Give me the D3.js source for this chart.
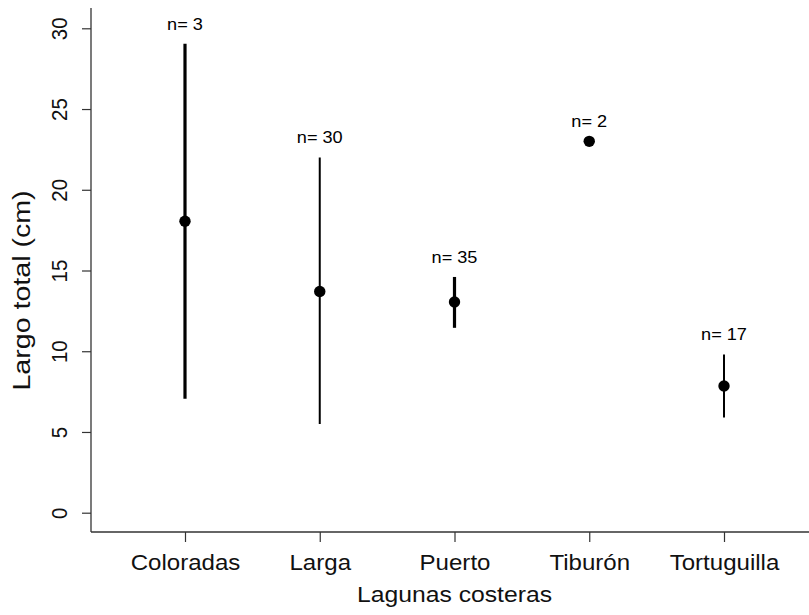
<!DOCTYPE html>
<html>
<head>
<meta charset="utf-8">
<script src="https://cdn.jsdelivr.net/npm/d3@7"></script>
<style>
  html, body { margin: 0; padding: 0; background: #fff; }
  svg { display: block; font-family: "Liberation Sans", Arial, sans-serif; }
</style>
</head>
<body>
<svg id="chart" width="809" height="615"></svg>
<script>
// Largo total por laguna costera: media y rango
const lagunas = ["Coloradas", "Larga", "Puerto", "Tiburón", "Tortuguilla"];
const media   = [18.05, 13.7, 13.05, 23.0, 7.85];
const inferior = [7.05, 5.5, 11.45, 23.0, 5.9];
const superior = [29.05, 22.0, 14.6, 23.0, 9.8];
const nMuestra = [3, 30, 35, 2, 17];
const yTicks = [0, 5, 10, 15, 20, 25, 30];

// grosor de cada segmento
const grosor = [3.2, 2, 3.2, 2, 2];

const svg = d3.select("#chart");
const W = 809;
const axisX = 91, axisY = 532;
const sx = 1.12; // ensanchamiento horizontal del texto

const x = d3.scalePoint().domain(lagunas).range([185, 724]);
const y = d3.scaleLinear().domain([0, 30]).range([512.7, 28.3]);

const ink = "#111";
const fam = "Liberation Sans, Arial, sans-serif";

// marco en L
svg.append("line")
  .attr("x1", axisX).attr("x2", axisX).attr("y1", 8).attr("y2", axisY)
  .attr("stroke", "#333").attr("stroke-width", 1.3);
svg.append("line")
  .attr("x1", axisX).attr("x2", W).attr("y1", axisY).attr("y2", axisY)
  .attr("stroke", "#333").attr("stroke-width", 1.3);

// eje Y
const gy = svg.append("g").attr("transform", `translate(${axisX},0)`)
  .call(d3.axisLeft(y).tickValues(yTicks).tickSize(9).tickSizeOuter(0).tickPadding(0));
gy.select(".domain").remove();
gy.selectAll(".tick line").attr("stroke", "#333").attr("stroke-width", 1.2);
gy.selectAll(".tick text")
  .attr("x", 0).attr("dy", null)
  .attr("transform", `translate(-24,0) scale(${sx},1) rotate(-90)`)
  .attr("text-anchor", "middle")
  .attr("font-size", 20.5)
  .attr("font-family", fam)
  .attr("fill", ink);

// eje X
const gx = svg.append("g").attr("transform", `translate(0,${axisY})`)
  .call(d3.axisBottom(x).tickSize(10).tickSizeOuter(0).tickPadding(0));
gx.select(".domain").remove();
gx.selectAll(".tick line").attr("stroke", "#333").attr("stroke-width", 1.2);
gx.selectAll(".tick text")
  .attr("y", 0).attr("dy", null)
  .attr("transform", `translate(0,38) scale(${sx},1)`)
  .attr("font-size", 21.5)
  .attr("font-family", fam)
  .attr("fill", ink);

// títulos de ejes
svg.append("text")
  .attr("transform", `translate(30,290.5) scale(${sx},1.33) rotate(-90)`)
  .attr("text-anchor", "middle")
  .attr("font-size", 21.5)
  .attr("fill", ink)
  .text("Largo total (cm)");
svg.append("text")
  .attr("transform", `translate(${(x.range()[0] + x.range()[1]) / 2},602) scale(1.15,1)`)
  .attr("text-anchor", "middle")
  .attr("font-size", 21.5)
  .attr("fill", ink)
  .text("Lagunas costeras");

const datos = lagunas.map((l, i) => ({
  l, m: media[i], lo: inferior[i], hi: superior[i], n: nMuestra[i], w: grosor[i]
}));

// segmentos del rango
svg.append("g").selectAll("line").data(datos.filter(d => d.hi > d.lo)).join("line")
  .attr("x1", d => x(d.l)).attr("x2", d => x(d.l))
  .attr("y1", d => y(d.hi)).attr("y2", d => y(d.lo))
  .attr("stroke", "#000").attr("stroke-width", d => d.w);

// medias
svg.append("g").selectAll("circle").data(datos).join("circle")
  .attr("cx", d => x(d.l)).attr("cy", d => y(d.m))
  .attr("r", 5.7).attr("fill", "#000");

// tamaño de muestra
svg.append("g").selectAll("text").data(datos).join("text")
  .attr("transform", d => `translate(${x(d.l)},${y(d.hi) - 14}) scale(1.1,1)`)
  .attr("text-anchor", "middle")
  .attr("font-size", 16.5)
  .attr("fill", "#000")
  .text(d => "n= " + d.n);
</script>
</body>
</html>
